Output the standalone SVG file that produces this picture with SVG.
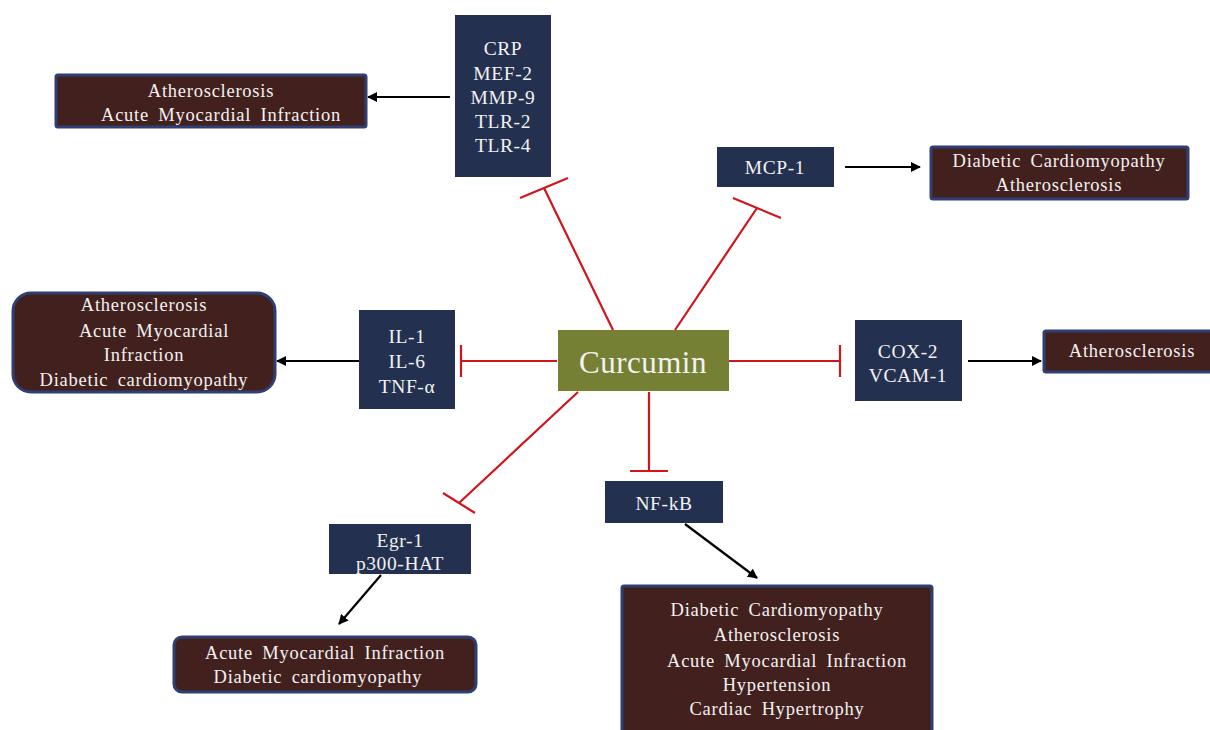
<svg xmlns="http://www.w3.org/2000/svg" width="1210" height="730" viewBox="0 0 1210 730">
<defs>
<marker id="ah" markerWidth="10" markerHeight="10" refX="9" refY="5" orient="auto" markerUnits="userSpaceOnUse">
<path d="M0,0 L10,5 L0,10 Z" fill="#000"/>
</marker>
<style>
.mol{fill:#24304f;}
.dis{fill:#42201e;stroke:#2f3f73;stroke-width:3;}
.t{fill:#f2f2f2;text-anchor:middle;dominant-baseline:central;font-size:18.5px;letter-spacing:0.75px;word-spacing:4px;}
.tm{font-size:19.5px;letter-spacing:0.6px;}
.inh{stroke:#d0161b;stroke-width:2.2;fill:none;}
.act{stroke:#000;stroke-width:2.2;fill:none;marker-end:url(#ah);}
</style>
</defs>
<rect width="1210" height="730" fill="#fff"/>

<g id="connectors">
<path class="inh" d="M613,330 L544,188 M520,198 L568,178"/>
<path class="inh" d="M675,330 L757,208 M733,198 L781,218"/>
<path class="inh" d="M557,361 L461,361 M461,345 L461,377"/>
<path class="inh" d="M729,361 L840,361 M840,345 L840,377"/>
<path class="inh" d="M649,392 L649,471 M630,471 L668,471"/>
<path class="inh" d="M578,392 L459,503 M443,493 L475,513"/>
<line class="act" x1="450" y1="97" x2="368" y2="97"/>
<line class="act" x1="845" y1="167" x2="920" y2="167"/>
<line class="act" x1="359" y1="361" x2="277" y2="361"/>
<line class="act" x1="968" y1="361" x2="1041" y2="361"/>
<line class="act" x1="381" y1="575" x2="339" y2="624"/>
<line class="act" x1="685" y1="524" x2="757" y2="578"/>
</g>

<g font-family="Liberation Serif, Times New Roman, DejaVu Serif, serif">
<g id="curcumin">
<rect x="558" y="330" width="171" height="61" fill="#758034"/>
<text class="t" x="643" y="362" style="font-size:31px;letter-spacing:0.5px">Curcumin</text>
</g>

<g id="crp">
<rect class="mol" x="455" y="15" width="96" height="162"/>
<text class="t tm" x="503" y="48">CRP</text>
<text class="t tm" x="503" y="73">MEF-2</text>
<text class="t tm" x="503" y="97">MMP-9</text>
<text class="t tm" x="503" y="121">TLR-2</text>
<text class="t tm" x="503" y="145">TLR-4</text>
</g>

<g id="dis-top-left">
<rect class="dis" x="56" y="75" width="310" height="52" rx="2"/>
<text class="t" x="211" y="91">Atherosclerosis</text>
<text class="t" x="221" y="115">Acute Myocardial Infraction</text>
</g>

<g id="mcp1">
<rect class="mol" x="717" y="147" width="117" height="40"/>
<text class="t tm" x="775" y="167">MCP-1</text>
</g>

<g id="dis-top-right">
<rect class="dis" x="931" y="147" width="257" height="52" rx="2"/>
<text class="t" x="1059" y="161">Diabetic Cardiomyopathy</text>
<text class="t" x="1059" y="185">Atherosclerosis</text>
</g>

<g id="il">
<rect class="mol" x="359" y="310" width="96" height="99"/>
<text class="t tm" x="407" y="336">IL-1</text>
<text class="t tm" x="407" y="361">IL-6</text>
<text class="t tm" x="407" y="386">TNF-α</text>
</g>

<g id="dis-left">
<rect class="dis" x="13" y="293" width="262" height="99" rx="18"/>
<text class="t" x="144" y="305">Atherosclerosis</text>
<text class="t" x="154" y="331">Acute Myocardial</text>
<text class="t" x="144" y="355">Infraction</text>
<text class="t" x="144" y="380">Diabetic cardiomyopathy</text>
</g>

<g id="cox2">
<rect class="mol" x="855" y="320" width="107" height="81"/>
<text class="t tm" x="908" y="351">COX-2</text>
<text class="t tm" x="908" y="375">VCAM-1</text>
</g>

<g id="dis-right">
<rect class="dis" x="1044" y="331" width="170" height="41" rx="2"/>
<text class="t" x="1132" y="351">Atherosclerosis</text>
</g>

<g id="egr1">
<rect class="mol" x="329" y="524" width="142" height="50"/>
<text class="t tm" x="400" y="540">Egr-1</text>
<text class="t tm" x="400" y="563">p300-HAT</text>
</g>

<g id="dis-bottom-left">
<rect class="dis" x="174" y="637" width="302" height="55" rx="8"/>
<text class="t" x="325" y="653">Acute Myocardial Infraction</text>
<text class="t" x="318" y="677">Diabetic cardiomyopathy</text>
</g>

<g id="nfkb">
<rect class="mol" x="605" y="481" width="118" height="42"/>
<text class="t tm" x="664" y="503">NF-kB</text>
</g>

<g id="dis-bottom">
<rect class="dis" x="622" y="586" width="310" height="150" rx="2"/>
<text class="t" x="777" y="610">Diabetic Cardiomyopathy</text>
<text class="t" x="777" y="635">Atherosclerosis</text>
<text class="t" x="787" y="661">Acute Myocardial Infraction</text>
<text class="t" x="777" y="685">Hypertension</text>
<text class="t" x="777" y="709">Cardiac Hypertrophy</text>
</g>
</g>
</svg>
